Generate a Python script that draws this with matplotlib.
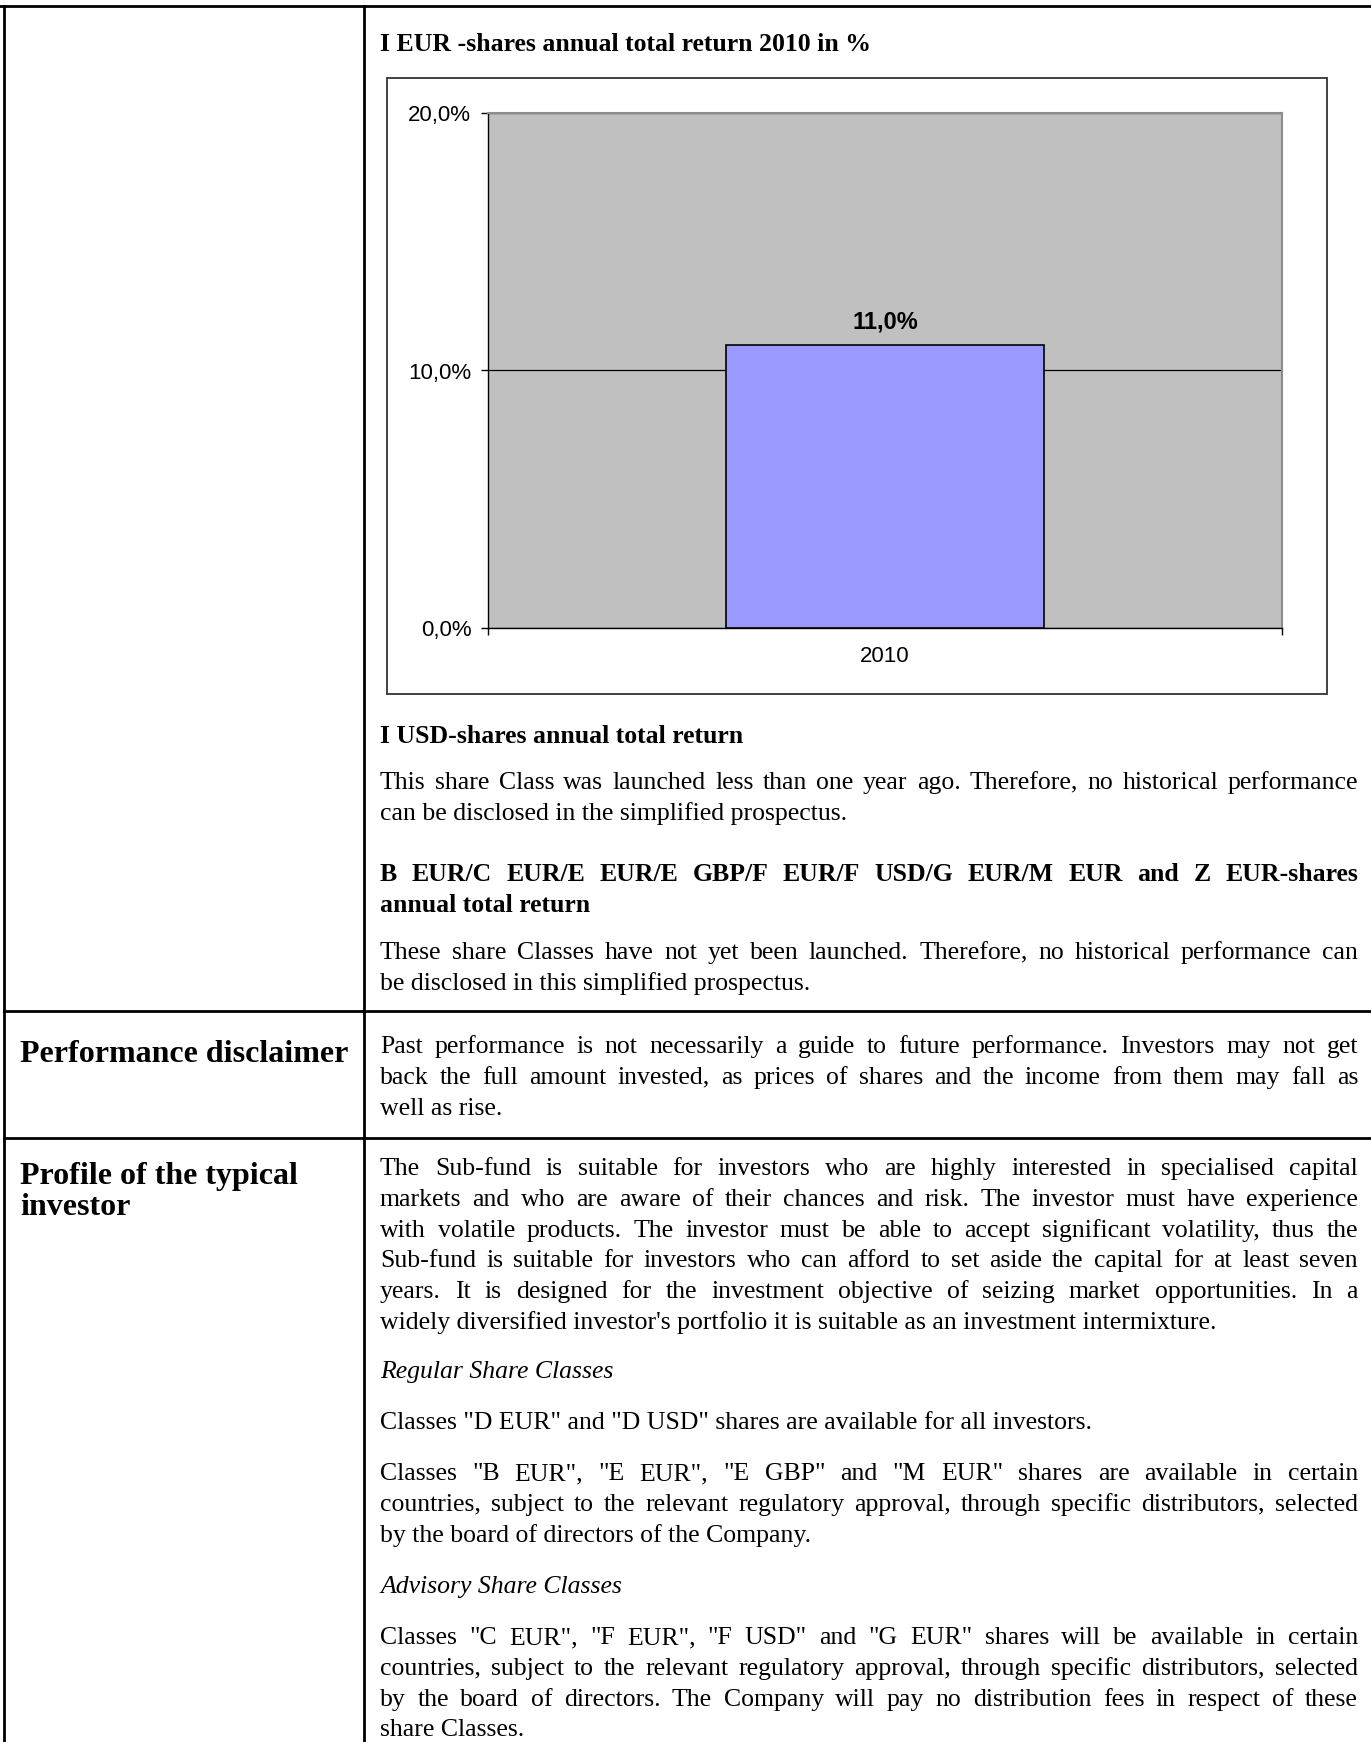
import matplotlib
matplotlib.use("Agg")
import matplotlib.pyplot as plt
from matplotlib.patches import Rectangle
from matplotlib.ticker import FuncFormatter

# chart data
years = ["2010"]
returns = [11.0]
y_ticks = [0, 10, 20]

chart_title = "I EUR -shares annual total return 2010 in %"

# page text, split the way the reference wraps it
usd_head = ["I USD-shares annual total return"]
usd_body = ["This share Class was launched less than one year ago. Therefore, no historical performance",
            "can be disclosed in the simplified prospectus."]
other_head = ["B EUR/C EUR/E EUR/E GBP/F EUR/F USD/G EUR/M EUR and Z EUR-shares",
              "annual total return"]
other_body = ["These share Classes have not yet been launched. Therefore, no historical performance can",
              "be disclosed in this simplified prospectus."]
disclaimer = ["Past performance is not necessarily a guide to future performance. Investors may not get",
              "back the full amount invested, as prices of shares and the income from them may fall as",
              "well as rise."]
profile = ["The Sub-fund is suitable for investors who are highly interested in specialised capital",
           "markets and who are aware of their chances and risk. The investor must have experience",
           "with volatile products. The investor must be able to accept significant volatility, thus the",
           "Sub-fund is suitable for investors who can afford to set aside the capital for at least seven",
           "years. It is designed for the investment objective of seizing market opportunities. In a",
           "widely diversified investor's portfolio it is suitable as an investment intermixture."]
regular_head = ["Regular Share Classes"]
regular_d = ["Classes \"D EUR\" and \"D USD\" shares are available for all investors."]
regular_b = ["Classes \"B EUR\", \"E EUR\", \"E GBP\" and \"M EUR\" shares are available in certain",
             "countries, subject to the relevant regulatory approval, through specific distributors, selected",
             "by the board of directors of the Company."]
advisory_head = ["Advisory Share Classes"]
advisory_c = ["Classes \"C EUR\", \"F EUR\", \"F USD\" and \"G EUR\" shares will be available in certain",
              "countries, subject to the relevant regulatory approval, through specific distributors, selected",
              "by the board of directors. The Company will pay no distribution fees in respect of these",
              "share Classes."]

W, H = 1371, 1742
SERIF = "Liberation Serif"
SANS = "Liberation Sans"
BODY = 18.5
HEAD = 23
LINE = 30.8
X0, X1 = 380, 1358

fig = plt.figure(figsize=(W / 100, H / 100), dpi=100)
page = fig.add_axes([0, 0, 1, 1])
page.set_xlim(0, W)
page.set_ylim(H, 0)
page.axis("off")
renderer = fig.canvas.get_renderer()


def paragraph(lines, y, justify=True, **kw):
    kw.setdefault("family", SERIF)
    kw.setdefault("fontsize", BODY)
    for i, line in enumerate(lines):
        yy = y + i * LINE
        last = i == len(lines) - 1
        words = line.split(" ")
        if not justify or last or len(words) < 2:
            page.text(X0, yy, line, va="baseline", ha="left", **kw)
            continue
        # spread the words so the line fills the column (justified)
        arts = [page.text(0, yy, w, va="baseline", ha="left", **kw) for w in words]
        widths = [a.get_window_extent(renderer).width for a in arts]
        gap = (X1 - X0 - sum(widths)) / (len(words) - 1)
        x = X0
        for a, w in zip(arts, widths):
            a.set_x(x)
            x += w + gap


# table rules
lw = 2.0
page.plot([0, W], [6, 6], color="black", lw=lw)
page.plot([4, 4], [6, H], color="black", lw=lw)
page.plot([364, 364], [6, H], color="black", lw=lw)
page.plot([4, W], [1011, 1011], color="black", lw=lw)
page.plot([4, W], [1138, 1138], color="black", lw=lw)

# row 1: chart + text
page.text(X0, 51, chart_title, family=SERIF, fontsize=BODY, fontweight="bold", va="baseline")
page.add_patch(Rectangle((387, 78), 1327 - 387, 694 - 78, fill=False, ec="#333333", lw=1.3))

paragraph(usd_head, 743, fontweight="bold")
paragraph(usd_body, 789)
paragraph(other_head, 881, fontweight="bold")
paragraph(other_body, 959)

# row 2
page.text(20, 1062, "Performance disclaimer", family=SERIF, fontsize=HEAD, fontweight="bold", va="baseline")
paragraph(disclaimer, 1053)

# row 3
page.text(20, 1184, "Profile of the typical", family=SERIF, fontsize=HEAD, fontweight="bold", va="baseline")
page.text(20, 1215, "investor", family=SERIF, fontsize=HEAD, fontweight="bold", va="baseline")
paragraph(profile, 1175)
paragraph(regular_head, 1378, style="italic")
paragraph(regular_d, 1429)
paragraph(regular_b, 1480)
paragraph(advisory_head, 1593, style="italic")
paragraph(advisory_c, 1644)

# the bar chart itself
pl, pr, pt, pb = 488, 1282, 113, 628
ax = fig.add_axes([pl / W, 1 - pb / H, (pr - pl) / W, (pb - pt) / H])
ax.set_facecolor("#C0C0C0")
xs = list(range(len(years)))
bars = ax.bar(xs, returns, width=0.4, color="#9999FF", edgecolor="black", lw=1.2, zorder=3)
ax.set_xlim(-0.5, len(years) - 0.5)
ax.set_ylim(0, 20)
ax.set_yticks(y_ticks)
ax.yaxis.set_major_formatter(FuncFormatter(lambda v, p: f"{v:.1f}%".replace(".", ",")))
ax.yaxis.grid(True, color="black", lw=0.9)
ax.set_axisbelow(True)
ax.tick_params(axis="y", length=5, width=1, pad=7, labelsize=16)
for lab in ax.get_yticklabels():
    lab.set_family(SANS)

# category boundaries get the tick marks, the year sits in between
ax.set_xticks([x - 0.5 for x in xs] + [xs[-1] + 0.5])
ax.set_xticklabels([])
ax.tick_params(axis="x", which="major", length=5, width=1)
ax.set_xticks(xs, minor=True)
ax.set_xticklabels(years, minor=True, family=SANS, fontsize=16)
ax.tick_params(axis="x", which="minor", length=0, pad=13)

for s in ["top", "right"]:
    ax.spines[s].set_color("#8C8C8C")
    ax.spines[s].set_linewidth(1.5)
for s in ["left", "bottom"]:
    ax.spines[s].set_color("black")
    ax.spines[s].set_linewidth(1)

ax.bar_label(bars, labels=[f"{v:.1f}%".replace(".", ",") for v in returns],
             padding=8, family=SANS, fontsize=17, fontweight="bold")

fig.savefig("out.png", dpi=100)
